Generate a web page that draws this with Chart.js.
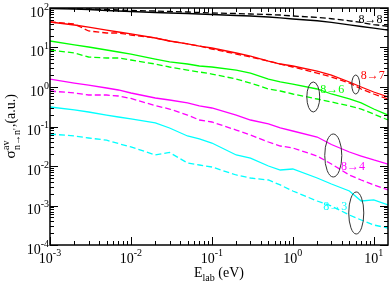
<!DOCTYPE html>
<html>
<head>
<meta charset="utf-8">
<script src="https://cdn.jsdelivr.net/npm/chart.js@4/dist/chart.umd.min.js"></script>
<style>
  html, body { margin: 0; padding: 0; background: #fff; }
  #wrap { width: 390px; height: 285px; position: relative; }
</style>
</head>
<body>
<div id="wrap"><canvas id="sigmaChart"></canvas></div>
<script>
"use strict";

// collision energies (eV)
const energies = [0.001, 0.002, 0.003, 0.005, 0.007, 0.01, 0.02, 0.03, 0.05, 0.07, 0.1,
  0.2, 0.3, 0.5, 0.7, 1, 2, 3, 5, 7, 10, 15];

// averaged cross sections (a.u.), solid and dashed curves
const sigma8to8 = [97.1, 94.4, 91.6, 86.4, 84.0, 81.5, 76.9, 74.7, 72.6, 70.5, 68.4,
  64.6, 62.7, 59.2, 55.9, 52.7, 47.5, 43.0, 37.5, 34.0, 31.0, 27.5];
const sigma8to8Dash = [100, 97.1, 94.4, 91.6, 89.0, 86.4, 84.0, 81.5, 79.2, 76.9, 74.7,
  72.6, 70.5, 68.4, 66.5, 62.7, 58.0, 53.5, 47.5, 43.0, 38.0, 34.5];
const sigma8to7 = [44.2, 37.1, 33.0, 27.7, 24.7, 22.0, 17.4, 14.6, 12.3, 10.9, 9.71,
  7.26, 6.09, 4.55, 3.82, 3.40, 2.54, 2.01, 1.34, 1.0, 0.747, 0.558];
const sigma8to7Dash = [44.2, 39.4, 26.2, 23.3, 23.3, 20.7, 17.4, 14.6, 12.3, 10.9, 9.16,
  6.84, 5.75, 4.55, 3.82, 3.21, 2.26, 1.79, 1.26, 0.89, 0.665, 0.497];
const sigma8to6 = [14.6, 11.6, 10.3, 8.65, 7.69, 6.84, 5.11, 4.30, 3.82, 3.40, 3.21,
  2.69, 2.26, 1.59, 1.34, 1.19, 0.89, 0.665, 0.497, 0.394, 0.277, 0.195];
const sigma8to6Dash = [8.65, 7.26, 5.75, 5.42, 5.42, 4.83, 3.82, 3.21, 2.69, 2.40, 2.13,
  1.59, 1.26, 0.89, 0.792, 0.665, 0.497, 0.417, 0.331, 0.277, 0.207, 0.146];
const sigma8to4 = [1.59, 1.26, 1.12, 0.944, 0.84, 0.705, 0.527, 0.469, 0.394, 0.331, 0.294,
  0.195, 0.146, 0.116, 0.0917, 0.0769, 0.0542, 0.035, 0.0226, 0.0179, 0.0142, 0.0112];
const sigma8to4Dash = [0.792, 0.705, 0.627, 0.627, 0.592, 0.512, 0.338, 0.277, 0.195, 0.146, 0.130,
  0.0815, 0.0609, 0.0405, 0.0321, 0.0286, 0.0179, 0.0112, 0.00592, 0.00442, 0.00331, 0.00247];
const sigma8to3 = [0.312, 0.262, 0.233, 0.195, 0.174, 0.155, 0.123, 0.0917, 0.0575, 0.0483, 0.0382,
  0.0190, 0.0159, 0.0100, 0.00792, 0.0084, 0.00497, 0.00350, 0.00233, 0.0013, 0.00138, 0.00103];
const sigma8to3Dash = [0.0646, 0.0575, 0.0512, 0.045, 0.037, 0.0305, 0.019, 0.022, 0.0119, 0.0106, 0.00944,
  0.00592, 0.00497, 0.00442, 0.00331, 0.00233, 0.0013, 0.00097, 0.000574, 0.00043, 0.000321, 0.000269];

// axis ticks as powers of ten
const xTickPowers = [-3, -2, -1, 0, 1];
const yTickPowers = [-4, -3, -2, -1, 0, 1, 2];

// curve labels: text, colour, energy (left edge), sigma (baseline)
const curveLabels = [
  ["8\u21928", "#000000", 6.5, 42.0],
  ["8\u21927", "#ff0000", 6.9, 1.62],
  ["8\u21926", "#00ff00", 2.18, 0.72],
  ["8\u21924", "#ff00ff", 3.95, 0.0077],
  ["8\u21923", "#00ffff", 2.38, 0.00075],
];

// ellipses: energy from, energy to, sigma low, sigma high
const ellipses = [
  [5.35, 6.71, 0.665, 2.01],
  [1.49, 2.15, 0.233, 1.34],
  [2.48, 4.03, 0.00527, 0.0646],
  [4.91, 7.53, 0.00019, 0.0022],
];

const serif = "'Liberation Serif', 'DejaVu Serif', serif";

function makeSet(values, color, dashed) {
  return {
    data: energies.map((e, i) => ({ x: e, y: values[i] })),
    borderColor: color,
    borderWidth: 1.3,
    borderDash: dashed ? [6, 3] : [],
    pointRadius: 0,
    tension: 0,
    fill: false,
  };
}

function powerLabel(ctx, p) {
  ctx.font = "14px " + serif;
  const w1 = ctx.measureText("10").width;
  ctx.font = "10px " + serif;
  const w2 = ctx.measureText(String(p)).width;
  return { w1: w1, w2: w2, exp: String(p) };
}

const axisPlugin = {
  id: "axisPlugin",
  afterDraw(chart) {
    const ctx = chart.ctx;
    const area = chart.chartArea;
    const xs = chart.scales.x;
    const ys = chart.scales.y;
    ctx.save();
    ctx.strokeStyle = "#000";
    ctx.fillStyle = "#000";
    ctx.lineWidth = 1;
    ctx.setLineDash([]);

    // x ticks, bottom and top, pointing inward
    for (let i = 0; i < xTickPowers.length; i++) {
      for (let m = 1; m <= 9; m++) {
        const v = m * Math.pow(10, xTickPowers[i]);
        if (v > xs.max) break;
        const x = Math.round(xs.getPixelForValue(v)) + 0.5;
        const len = m === 1 ? 8 : 4;
        ctx.beginPath();
        ctx.moveTo(x, area.bottom);
        ctx.lineTo(x, area.bottom - len);
        ctx.moveTo(x, area.top);
        ctx.lineTo(x, area.top + len);
        ctx.stroke();
      }
    }
    // y ticks, left and right
    for (let i = 0; i < yTickPowers.length; i++) {
      for (let m = 1; m <= 9; m++) {
        const v = m * Math.pow(10, yTickPowers[i]);
        if (v > ys.max) break;
        const y = Math.round(ys.getPixelForValue(v)) + 0.5;
        const len = m === 1 ? 8 : 4;
        ctx.beginPath();
        ctx.moveTo(area.left, y);
        ctx.lineTo(area.left + len, y);
        ctx.moveTo(area.right, y);
        ctx.lineTo(area.right - len, y);
        ctx.stroke();
      }
    }

    // frame
    ctx.lineWidth = 1.5;
    ctx.strokeRect(area.left, area.top, area.right - area.left, area.bottom - area.top);

    // tick labels
    ctx.textBaseline = "alphabetic";
    ctx.textAlign = "left";
    for (let i = 0; i < xTickPowers.length; i++) {
      const p = xTickPowers[i];
      const x = xs.getPixelForValue(Math.pow(10, p));
      const lab = powerLabel(ctx, p);
      const x0 = x - (lab.w1 + lab.w2) / 2;
      ctx.font = "14px " + serif;
      ctx.fillText("10", x0, area.bottom + 18);
      ctx.font = "10px " + serif;
      ctx.fillText(lab.exp, x0 + lab.w1, area.bottom + 11);
    }
    for (let i = 0; i < yTickPowers.length; i++) {
      const p = yTickPowers[i];
      const y = ys.getPixelForValue(Math.pow(10, p));
      const lab = powerLabel(ctx, p);
      const x1 = area.left - 1;
      ctx.font = "14px " + serif;
      ctx.fillText("10", x1 - lab.w2 - lab.w1, y + 8.5);
      ctx.font = "10px " + serif;
      ctx.fillText(lab.exp, x1 - lab.w2, y + 1.5);
    }

    // x title: E_lab (eV)
    ctx.font = "14px " + serif;
    const wE = ctx.measureText("E").width;
    const wUnit = ctx.measureText(" (eV)").width;
    ctx.font = "10px " + serif;
    const wLab = ctx.measureText("lab").width;
    let tx = (area.left + area.right) / 2 - (wE + wLab + wUnit) / 2;
    const ty = area.bottom + 32;
    ctx.font = "14px " + serif;
    ctx.fillText("E", tx, ty);
    ctx.font = "10px " + serif;
    ctx.fillText("lab", tx + wE, ty + 4);
    ctx.font = "14px " + serif;
    ctx.fillText(" (eV)", tx + wE + wLab, ty);

    // y title: sigma^av_{n->n'},(a.u.)
    ctx.font = "15px " + serif;
    const wSig = ctx.measureText("\u03c3").width;
    ctx.font = "14px " + serif;
    const wTail = ctx.measureText(",(a.u.)").width;
    ctx.font = "10px " + serif;
    const wSup = ctx.measureText("av").width;
    const wSub = ctx.measureText("n\u2192n'").width;
    const wMid = Math.max(wSup, wSub) + 1;
    const total = wSig + wMid + wTail;
    ctx.save();
    ctx.translate(15, (area.top + area.bottom) / 2);
    ctx.rotate(-Math.PI / 2);
    let rx = -total / 2;
    ctx.font = "15px " + serif;
    ctx.fillText("\u03c3", rx, 0);
    rx += wSig + 0.5;
    ctx.font = "10px " + serif;
    ctx.fillText("av", rx, -6);
    ctx.fillText("n\u2192n'", rx, 5);
    rx += wMid;
    ctx.font = "14px " + serif;
    ctx.fillText(",(a.u.)", rx, 0);
    ctx.restore();

    // ellipses
    ctx.strokeStyle = "#333";
    ctx.lineWidth = 1;
    for (let i = 0; i < ellipses.length; i++) {
      const e = ellipses[i];
      const x1 = xs.getPixelForValue(e[0]);
      const x2 = xs.getPixelForValue(e[1]);
      const y1 = ys.getPixelForValue(e[3]);
      const y2 = ys.getPixelForValue(e[2]);
      ctx.beginPath();
      ctx.ellipse((x1 + x2) / 2, (y1 + y2) / 2, (x2 - x1) / 2, (y2 - y1) / 2, 0, 0, Math.PI * 2);
      ctx.stroke();
    }

    // curve labels
    ctx.font = "12px " + serif;
    for (let i = 0; i < curveLabels.length; i++) {
      const c = curveLabels[i];
      ctx.fillStyle = c[1];
      ctx.fillText(c[0], xs.getPixelForValue(c[2]), ys.getPixelForValue(c[3]));
    }
    ctx.restore();
  },
};

const sigmaChart = new Chart(document.getElementById("sigmaChart"), {
  type: "line",
  data: {
    datasets: [
      makeSet(sigma8to8, "#000000", false),
      makeSet(sigma8to8Dash, "#000000", true),
      makeSet(sigma8to7, "#ff0000", false),
      makeSet(sigma8to7Dash, "#ff0000", true),
      makeSet(sigma8to6, "#00ff00", false),
      makeSet(sigma8to6Dash, "#00ff00", true),
      makeSet(sigma8to4, "#ff00ff", false),
      makeSet(sigma8to4Dash, "#ff00ff", true),
      makeSet(sigma8to3, "#00ffff", false),
      makeSet(sigma8to3Dash, "#00ffff", true),
    ],
  },
  options: {
    responsive: true,
    maintainAspectRatio: false,
    animation: false,
    layout: { padding: { left: 50, right: 2, top: 8, bottom: 40 } },
    plugins: {
      legend: { display: false },
      tooltip: { enabled: false },
    },
    scales: {
      x: { type: "logarithmic", min: 0.001, max: 15, display: false },
      y: { type: "logarithmic", min: 0.0001, max: 100, display: false },
    },
  },
  plugins: [axisPlugin],
});
</script>
</body>
</html>
